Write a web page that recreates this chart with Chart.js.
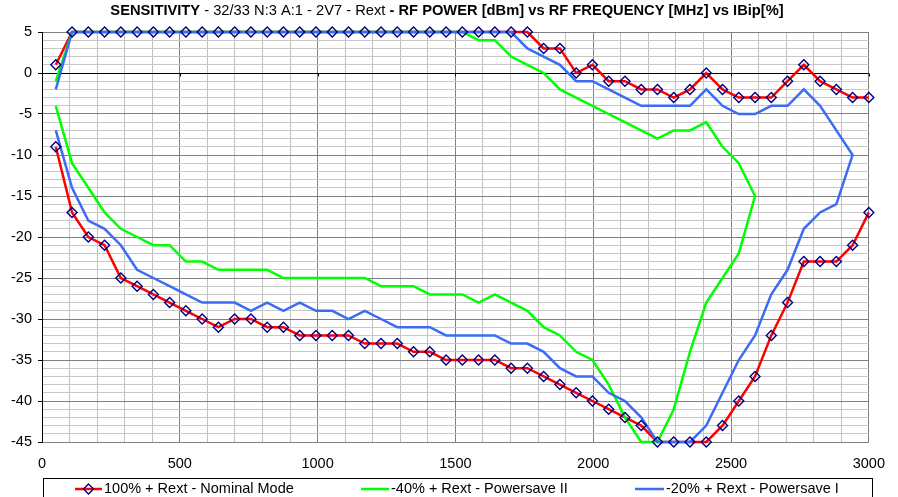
<!DOCTYPE html>
<html lang="en">
<head>
<meta charset="UTF-8" />
<title>Sensitivity - RF Power vs RF Frequency</title>
<script src="https://cdn.jsdelivr.net/npm/chart.js"></script>
<style>
  html, body { margin: 0; padding: 0; background: #fff; }
</style>
</head>
<body>
<canvas id="sensChart" width="898" height="497"></canvas>
<script>
  // RF frequency steps [MHz]
  const freqs = [50, 109, 168, 227, 286, 345, 404, 463, 522, 581, 640, 699, 758, 817, 876, 935, 994, 1053, 1112, 1171,
    1230, 1289, 1348, 1407, 1466, 1525, 1584, 1643, 1702, 1761, 1820, 1879, 1938, 1997, 2056, 2115, 2174, 2233, 2292, 2351,
    2410, 2469, 2528, 2587, 2646, 2705, 2764, 2823, 2882, 2941, 3000];

  // RF power [dBm], upper and lower edge of each window
  const redUpper = [1, 5, 5, 5, 5, 5, 5, 5, 5, 5, 5, 5, 5, 5, 5, 5, 5, 5, 5, 5, 5, 5, 5, 5, 5, 5, 5, 5, 5, 5,
    3, 3, 0, 1, -1, -1, -2, -2, -3, -2, 0, -2, -3, -3, -3, -1, 1, -1, -2, -3, -3];
  const redLower = [-9, -17, -20, -21, -25, -26, -27, -28, -29, -30, -31, -30, -30, -31, -31, -32, -32, -32, -32, -33,
    -33, -33, -34, -34, -35, -35, -35, -35, -36, -36, -37, -38, -39, -40, -41, -42, -43, -45, -45, -45,
    -45, -43, -40, -37, -32, -28, -23, -23, -23, -21, -17];

  const greenUpper = [-1, 5, 5, 5, 5, 5, 5, 5, 5, 5, 5, 5, 5, 5, 5, 5, 5, 5, 5, 5, 5, 5, 5, 5, 5, 5,
    4, 4, 2, 1, 0, -2, -3, -4, -5, -6, -7, -8, -7, -7, -6, -9, -11, -15];
  const greenLower = [-4, -11, -14, -17, -19, -20, -21, -21, -23, -23, -24, -24, -24, -24, -25, -25, -25, -25, -25, -25,
    -26, -26, -26, -27, -27, -27, -28, -27, -28, -29, -31, -32, -34, -35, -38, -42, -45, -45, -41, -34,
    -28, -25, -22, -15];

  const blueUpper = [-2, 5, 5, 5, 5, 5, 5, 5, 5, 5, 5, 5, 5, 5, 5, 5, 5, 5, 5, 5, 5, 5, 5, 5, 5, 5, 5, 5, 5,
    3, 2, 1, -1, -1, -2, -3, -4, -4, -4, -4, -2, -4, -5, -5, -4, -4, -2, -4, -7, -10];
  const blueLower = [-7, -14, -18, -19, -21, -24, -25, -26, -27, -28, -28, -28, -29, -28, -29, -28, -29, -29, -30, -29,
    -30, -31, -31, -31, -32, -32, -32, -32, -33, -33, -34, -36, -37, -37, -39, -40, -42, -45, -45, -45,
    -43, -39, -35, -32, -27, -24, -19, -17, -16];

  const seriesNames = ['100% + Rext - Nominal Mode', '-40% + Rext - Powersave II', '-20% + Rext - Powersave I'];
  const xTicks = [0, 500, 1000, 1500, 2000, 2500, 3000];
  const yTicks = [5, 0, -5, -10, -15, -20, -25, -30, -35, -40, -45];

  const RED = '#ff0000', GREEN = '#00ff00', BLUE = '#3a6cf4', NAVY = '#000080';
  const FONT = "'Liberation Sans', Arial, sans-serif";

  const toPts = ys => ys.map((y, i) => ({ x: freqs[i], y }));
  // upper edge left->right, then lower edge back right->left
  const loop = (up, low) => toPts(up).concat(toPts(low).reverse());

  const lineDs = (data, color) => ({
    data, showLine: true, borderColor: color, backgroundColor: color,
    borderWidth: 2.5, pointRadius: 0, pointHoverRadius: 0, tension: 0, clip: 4
  });
  const markerDs = data => ({
    data, showLine: false, pointStyle: 'rectRot', pointRadius: 5, pointHoverRadius: 5,
    borderColor: NAVY, backgroundColor: 'rgba(255,255,255,0)', pointBorderWidth: 1.4, clip: false
  });

  // title with mixed bold / normal parts
  const titlePlugin = {
    id: 'mixedTitle',
    afterDraw(chart) {
      const ctx = chart.ctx;
      const parts = [
        ['SENSITIVITY', 'bold'],
        [' - 32/33 N:3 A:1 - 2V7 - Rext', 'normal'],
        [' - RF POWER [dBm] vs RF FREQUENCY [MHz] vs IBip[%]', 'bold']
      ];
      ctx.save();
      ctx.fillStyle = '#000';
      ctx.textBaseline = 'middle';
      let total = 0;
      parts.forEach(p => { ctx.font = p[1] + ' 14.7px ' + FONT; total += ctx.measureText(p[0]).width; });
      let x = 447 - total / 2;
      parts.forEach(p => {
        ctx.font = p[1] + ' 14.7px ' + FONT;
        ctx.fillText(p[0], x, 11);
        x += ctx.measureText(p[0]).width;
      });
      ctx.restore();
    }
  };

  // zero axis line with its tick marks, and the boxed legend under the plot
  const extrasPlugin = {
    id: 'extras',
    beforeDatasetsDraw(chart) {
      const { ctx, chartArea, scales } = chart;
      const y0 = Math.round(scales.y.getPixelForValue(0)) + 0.5;
      ctx.save();
      ctx.strokeStyle = '#000';
      ctx.lineWidth = 1;
      ctx.beginPath();
      ctx.moveTo(chartArea.left, y0);
      ctx.lineTo(chartArea.right, y0);
      xTicks.forEach(v => {
        const px = Math.round(scales.x.getPixelForValue(v)) + 0.5;
        ctx.moveTo(px, y0);
        ctx.lineTo(px, y0 + 3);
      });
      ctx.stroke();
      ctx.restore();
    },
    afterDraw(chart) {
      const ctx = chart.ctx;
      ctx.save();
      ctx.strokeStyle = '#000';
      ctx.lineWidth = 1;
      ctx.strokeRect(43.5, 478.5, 829, 30);
      const items = [
        { x1: 75, x2: 102, color: RED, marker: true, tx: 104 },
        { x1: 361, x2: 389, color: GREEN, marker: false, tx: 391 },
        { x1: 635, x2: 664, color: BLUE, marker: false, tx: 666 }
      ];
      const ly = 489;
      items.forEach((it, i) => {
        ctx.strokeStyle = it.color;
        ctx.lineWidth = 2.5;
        ctx.beginPath();
        ctx.moveTo(it.x1, ly);
        ctx.lineTo(it.x2, ly);
        ctx.stroke();
        if (it.marker) {
          const cx = (it.x1 + it.x2) / 2;
          ctx.strokeStyle = NAVY;
          ctx.lineWidth = 1.4;
          ctx.beginPath();
          ctx.moveTo(cx - 5, ly);
          ctx.lineTo(cx, ly - 5);
          ctx.lineTo(cx + 5, ly);
          ctx.lineTo(cx, ly + 5);
          ctx.closePath();
          ctx.stroke();
        }
        ctx.fillStyle = '#000';
        ctx.font = '14.5px ' + FONT;
        ctx.textBaseline = 'middle';
        ctx.fillText(seriesNames[i], it.tx, ly);
      });
      ctx.restore();
    }
  };

  new Chart(document.getElementById('sensChart'), {
    type: 'scatter',
    data: {
      datasets: [
        markerDs(toPts(redUpper)),
        markerDs(toPts(redLower)),
        lineDs(loop(blueUpper, blueLower), BLUE),
        lineDs(loop(greenUpper, greenLower), GREEN),
        lineDs(toPts(redUpper), RED),
        lineDs(toPts(redLower), RED)
      ]
    },
    options: {
      responsive: false,
      animation: false,
      layout: { padding: { top: 32, right: 29, bottom: 0, left: 0 } },
      plugins: {
        legend: { display: false },
        title: { display: false },
        tooltip: { enabled: false }
      },
      scales: {
        x: {
          type: 'linear', min: 0, max: 3000,
          afterFit: s => { s.height = 55; },
          afterBuildTicks: s => { s.ticks = []; for (let v = 0; v <= 3000; v += 100) s.ticks.push({ value: v }); },
          ticks: {
            autoSkip: false, maxRotation: 0, padding: 13, color: '#000',
            font: { family: FONT, size: 14.5 },
            callback: v => (xTicks.includes(v) ? v : '')
          },
          grid: {
            color: c => (c.tick && c.tick.value % 500 === 0 ? '#808080' : '#c0c0c0'),
            lineWidth: 1, drawTicks: false
          },
          border: { display: true, color: '#808080', width: 1 }
        },
        y: {
          min: -45, max: 5,
          afterFit: s => { s.width = 42; },
          afterBuildTicks: s => { s.ticks = []; for (let v = -45; v <= 5; v += 1) s.ticks.push({ value: v }); },
          ticks: {
            autoSkip: false, padding: 6, color: '#000',
            font: { family: FONT, size: 14.5 },
            callback: v => (yTicks.includes(v) ? v : '')
          },
          grid: {
            color: c => (c.tick && c.tick.value % 5 === 0 ? '#808080' : '#c8c8c8'),
            lineWidth: 1, tickLength: 4,
            tickColor: c => (c.tick && c.tick.value % 5 === 0 ? '#000' : 'rgba(0,0,0,0)')
          },
          border: { display: true, color: '#000', width: 1 }
        }
      }
    },
    plugins: [titlePlugin, extrasPlugin]
  });
</script>
</body>
</html>
